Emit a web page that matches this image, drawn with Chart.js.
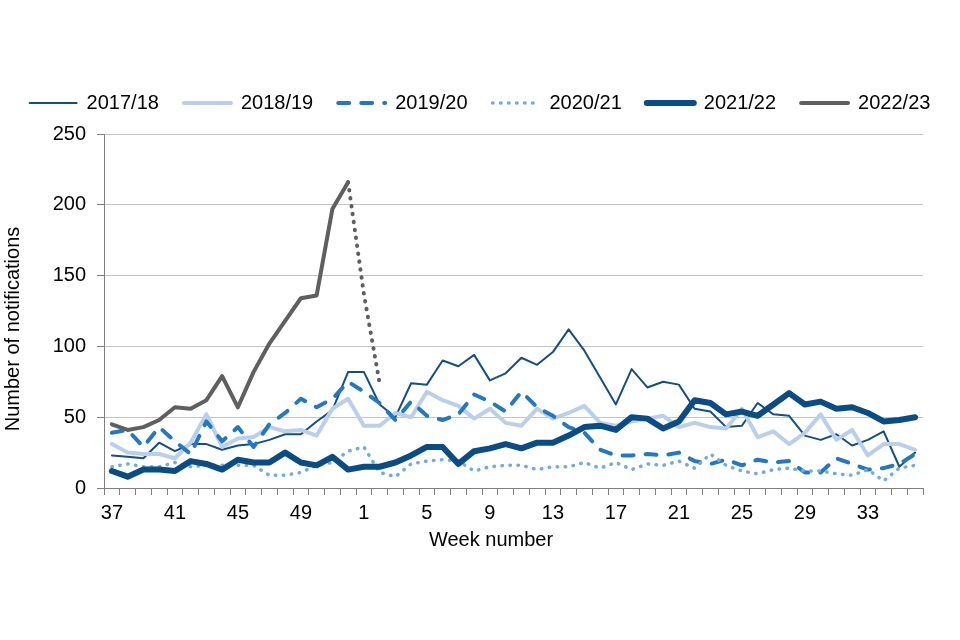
<!DOCTYPE html>
<html>
<head>
<meta charset="utf-8">
<script src="https://cdn.jsdelivr.net/npm/chart.js@4/dist/chart.umd.min.js"></script>
<style>
  html, body { margin: 0; padding: 0; background: #fff; }
  #wrap { width: 960px; height: 640px; }
</style>
</head>
<body>
<div id="wrap"><canvas id="notifications"></canvas></div>
<script>
// week numbers, 37..52 then 1..36
const weeks = ['37','38','39','40','41','42','43','44','45','46','47','48','49','50','51','52',
  '1','2','3','4','5','6','7','8','9','10','11','12','13','14','15','16','17','18',
  '19','20','21','22','23','24','25','26','27','28','29','30','31','32','33','34','35','36'];

const yTicks = [0, 50, 100, 150, 200, 250];

const s2017 = [23,22,21,32,26,31,31,27,30,31,34,38,38,47,55,82,82,59,50,74,73,90,86,94,76,81,
  92,87,96,112,97,78,59,84,71,75,73,56,54,43,44,60,52,51,37,34,38,30,34,40,15,25];
const s2018 = [31,25,24,24,21,32,52,29,35,36,43,40,41,37,56,63,44,44,53,50,68,62,58,49,56,46,
  44,56,49,53,58,46,44,47,49,51,43,46,43,42,56,36,40,31,39,52,34,41,23,31,31,27];
const s2019 = [39,41,29,43,33,24,47,33,43,29,45,53,63,57,63,75,68,60,48,61,51,48,52,66,61,54,
  68,57,51,43,39,27,23,23,24,23,25,19,17,20,16,20,18,19,11,11,21,17,13,14,17,24];
const s2020 = [15,17,15,15,18,15,16,16,16,16,9,9,11,16,18,26,29,11,8,17,19,20,19,12,15,16,
  16,13,15,15,18,14,18,13,17,16,19,14,24,16,12,10,13,14,12,12,10,9,13,5,14,16];
const s2021 = [12,8,13,13,12,19,17,13,20,18,18,25,18,16,22,13,15,15,18,23,29,29,17,26,28,31,
  28,32,32,37,43,44,41,50,49,42,47,62,60,52,54,51,59,67,59,61,56,57,53,47,48,50];
const s2022 = [45,41,43,48,57,56,62,79,57,82,102,118,134,136,197,216];
// provisional continuation of 2022/23 (dotted grey, not in legend)
const s2022prov = [null,null,null,null,null,null,null,null,null,null,null,null,null,null,null,
  216,137,74];

const font = "'Liberation Sans', Arial, sans-serif";

function line(label, data, color, width, extra) {
  return Object.assign({
    label: label,
    data: data,
    borderColor: color,
    backgroundColor: color,
    borderWidth: width,
    borderJoinStyle: 'round',
    borderCapStyle: 'round',
    pointRadius: 0,
    pointHoverRadius: 0,
    fill: false,
    tension: 0
  }, extra || {});
}

// extra room under the legend so the plot starts at the same height
const legendHeight = {
  id: 'legendHeight',
  beforeInit(chart) {
    const fit = chart.legend.fit;
    chart.legend.fit = function () {
      fit.bind(chart.legend)();
      this.height += 11;
    };
  }
};

// axis titles sit a little off-centre in the original
const axisTitles = {
  id: 'axisTitles',
  afterDraw(chart) {
    const ctx = chart.ctx;
    ctx.save();
    ctx.fillStyle = '#000';
    ctx.font = '20px ' + font;
    ctx.textAlign = 'center';
    ctx.textBaseline = 'middle';
    ctx.fillText('Week number', 491, 540);
    ctx.translate(13, 329);
    ctx.rotate(-Math.PI / 2);
    ctx.fillText('Number of notifications', 0, 0);
    ctx.restore();
  }
};

new Chart(document.getElementById('notifications'), {
  type: 'line',
  data: {
    labels: weeks,
    datasets: [
      line('2017/18', s2017, '#154f80', 2, { order: 6 }),
      line('2018/19', s2018, '#bacfeb', 4, { order: 5 }),
      line('2019/20', s2019, '#2478c0', 4, { order: 4, borderDash: [11, 12] }),
      line('2020/21', s2020, '#74abdf', 3.5, { order: 3, borderDash: [0.5, 7.5] }),
      line('2021/22', s2021, '#0b4c84', 6, { order: 2 }),
      line('2022/23', s2022, '#5f5f5f', 4, { order: 1 }),
      line('2022/23 provisional', s2022prov, '#5f5f5f', 4, { order: 0, borderDash: [0.5, 7.5] })
    ]
  },
  options: {
    responsive: true,
    maintainAspectRatio: false,
    animation: false,
    layout: { padding: { top: 68, left: 0, right: 0, bottom: 109 } },
    plugins: {
      tooltip: { enabled: false },
      legend: {
        position: 'top',
        labels: {
          font: { family: font, size: 20 },
          color: '#000',
          padding: 25,
          usePointStyle: true,
          pointStyleWidth: 47,
          generateLabels: (chart) => chart.data.datasets.map((ds, i) => ({
            text: ds.label,
            datasetIndex: i,
            fillStyle: ds.borderColor,
            strokeStyle: ds.borderColor,
            fontColor: '#000',
            lineWidth: ds.borderWidth,
            lineDash: ds.borderDash || [],
            lineCap: 'round',
            pointStyle: 'line',
            hidden: false
          })),
          filter: (item) => item.text.indexOf('provisional') < 0
        }
      }
    },
    scales: {
      x: {
        offset: true,
        grid: {
          offset: true,
          drawOnChartArea: false,
          drawTicks: true,
          tickLength: 7,
          tickColor: '#7f7f7f'
        },
        border: { display: true, color: '#7f7f7f', width: 1 },
        ticks: {
          autoSkip: false,
          maxRotation: 0,
          padding: 6,
          color: '#000',
          font: { family: font, size: 20 },
          callback: (v, i) => (i % 4 === 0 ? weeks[i] : '')
        }
      },
      y: {
        min: 0,
        max: 250,
        afterFit(scale) { scale.width = 104; },
        afterBuildTicks(scale) { scale.ticks = yTicks.map(v => ({ value: v })); },
        grid: {
          color: (ctx) => (ctx.tick && ctx.tick.value === 0 ? 'rgba(0,0,0,0)' : '#c4c4c4'),
          borderDash: [3, 2],
          lineWidth: 1,
          drawTicks: true,
          tickLength: 7,
          tickColor: '#7f7f7f',
          tickBorderDash: []
        },
        border: { display: true, color: '#7f7f7f', width: 1 },
        ticks: {
          padding: 11,
          color: '#000',
          font: { family: font, size: 20 }
        }
      },
      // empty right-hand strip, keeps the legend on one row
      rightGap: {
        type: 'linear',
        position: 'right',
        afterFit(scale) { scale.width = 37; },
        grid: { display: false },
        border: { display: false },
        ticks: { display: false }
      }
    }
  },
  plugins: [legendHeight, axisTitles]
});
</script>
</body>
</html>
